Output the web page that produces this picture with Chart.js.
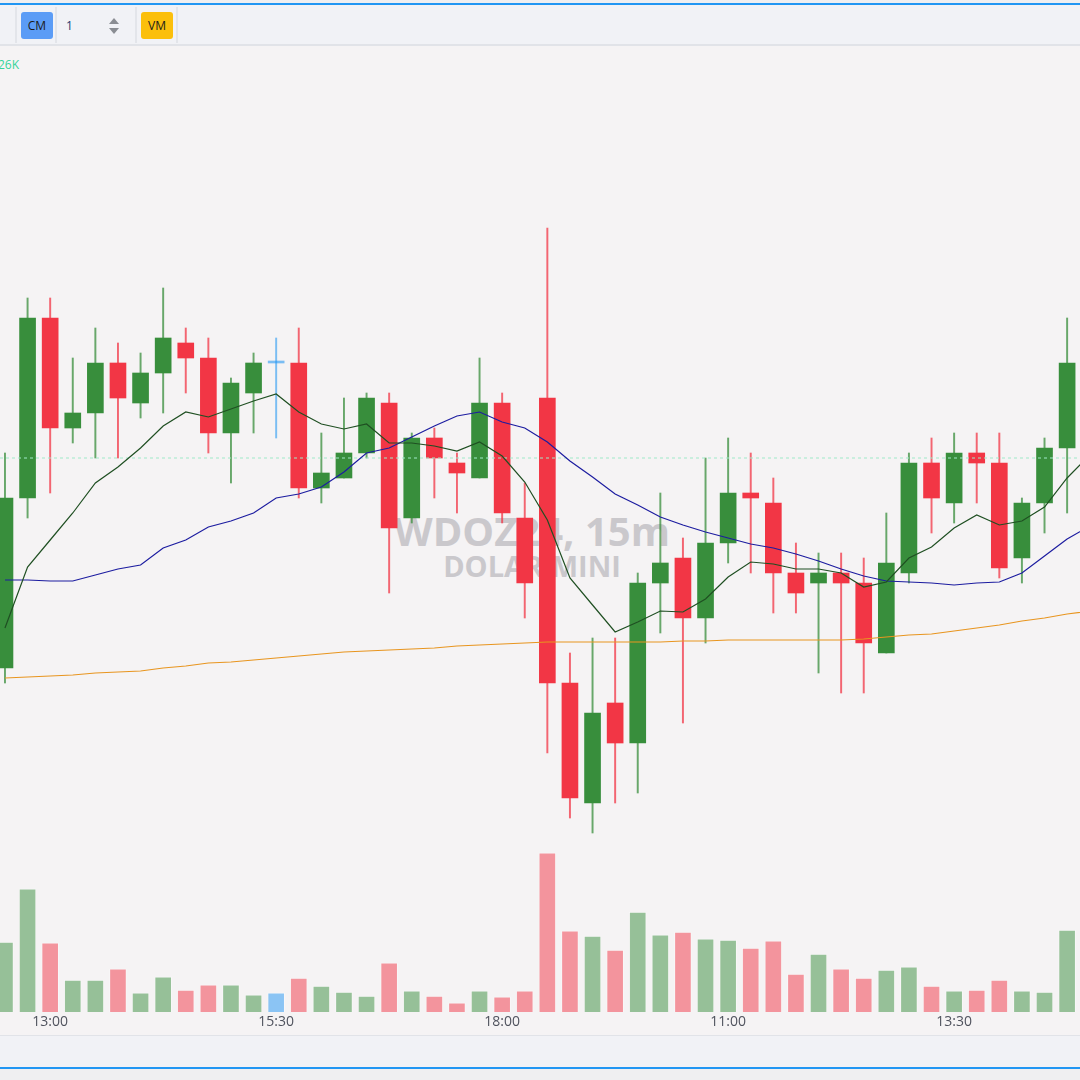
<!DOCTYPE html>
<html lang="pt-BR">
<head>
<meta charset="UTF-8">
<title>WDOZ24, 15m</title>
<script src="https://cdn.jsdelivr.net/npm/chart.js"></script>
<style>
    html, body { margin: 0; padding: 0; }
    body { width: 1080px; height: 1080px; overflow: hidden; position: relative; background: #efeff1; font-family: "Open Sans", sans-serif; }
    .topline { position: absolute; left: 0; top: 3px; width: 1080px; height: 2px; background: #2196f3; }
    .toolbar { position: absolute; left: 0; top: 5px; width: 1080px; height: 39px; background: #f1f2f6; border-bottom: 2px solid #e1e3e8; }
    .sep { position: absolute; top: 2px; width: 2px; height: 36px; background: #e3e5ea; }
    .btn { position: absolute; top: 7px; width: 32px; height: 27px; border-radius: 3px; font-size: 12px; line-height: 27px; text-align: center; color: #1b1b1b; }
    .num { position: absolute; left: 66px; top: 7px; line-height: 27px; font-size: 12px; color: #1f3a70; }
    .spin { position: absolute; left: 109px; width: 0; height: 0; border-left: 5px solid transparent; border-right: 5px solid transparent; }
    .pane { position: absolute; left: 0; top: 46px; width: 1080px; height: 989px; background: #f5f3f4; }
    .vol-label { position: absolute; right: 1061px; top: 56px; font-size: 12px; color: #35d49a; white-space: nowrap; }
    .wm { position: absolute; left: 0; width: 1064px; text-align: center; font-weight: 700; color: #cac8cc; white-space: nowrap; }
    .chartbox { position: absolute; left: 0; top: 46px; width: 1080px; height: 989px; }
    .footer { position: absolute; left: 0; top: 1035px; width: 1080px; height: 31px; background: #f1f2f6; border-top: 1px solid #e1e3e8; }
    .bottomline { position: absolute; left: 0; top: 1067px; width: 1080px; height: 2px; background: #2196f3; }
</style>
</head>
<body>
    <div class="topline"></div>
    <div class="toolbar">
        <div class="sep" style="left:15px"></div>
        <div class="btn" style="left:21px; background:#5b9cf6">CM</div>
        <div class="sep" style="left:55px"></div>
        <div class="num">1</div>
        <div class="spin" style="top:13px; border-bottom:6px solid #8a8d93"></div>
        <div class="spin" style="top:23px; border-top:6px solid #8a8d93"></div>
        <div class="sep" style="left:135px"></div>
        <div class="btn" style="left:141px; background:#fbbf0b">VM</div>
        <div class="sep" style="left:176px"></div>
    </div>
    <div class="pane"></div>
    <div class="vol-label">Vol 1.26K</div>
    <div class="wm" style="top:511px; font-size:40px; line-height:40px">WDOZ24, 15m</div>
    <div class="wm" style="top:551px; font-size:29px; line-height:29px">DOLAR MINI</div>
    <div class="chartbox"><canvas id="chart"></canvas></div>
    <div class="footer"></div>
    <div class="bottomline"></div>
    <script>
    // candles (15m), values
    const opens  = [5829.0, 5846.0, 5864.0, 5853.0, 5854.5, 5859.5, 5855.5, 5858.5, 5861.5, 5860.0, 5852.5, 5856.5, 5859.5, 5859.5, 5847.0, 5848.0, 5850.5, 5855.5, 5844.0, 5852.0, 5849.5, 5848.0, 5855.5, 5844.0, 5856.0, 5827.5, 5815.5, 5825.5, 5821.5, 5837.5, 5840.0, 5834.0, 5841.5, 5846.5, 5845.5, 5838.5, 5837.5, 5838.5, 5837.5, 5830.5, 5838.5, 5849.5, 5845.5, 5850.5, 5849.5, 5840.0, 5845.5, 5851.0];
    const highs  = [5850.5, 5866.0, 5866.0, 5860.0, 5863.0, 5861.5, 5860.5, 5867.0, 5863.0, 5862.0, 5858.0, 5860.5, 5862.0, 5863.0, 5852.5, 5856.0, 5856.5, 5856.5, 5852.5, 5853.0, 5850.5, 5860.0, 5856.5, 5847.5, 5873.0, 5830.5, 5832.0, 5832.0, 5838.5, 5846.5, 5842.0, 5850.0, 5852.0, 5850.5, 5848.0, 5841.5, 5840.5, 5840.5, 5840.0, 5844.5, 5850.5, 5852.0, 5852.5, 5852.5, 5852.5, 5846.0, 5852.0, 5864.0];
    const lows   = [5827.5, 5844.0, 5846.5, 5851.5, 5850.0, 5850.0, 5854.0, 5854.5, 5856.5, 5850.5, 5847.5, 5852.5, 5852.0, 5846.0, 5845.5, 5848.0, 5850.0, 5836.5, 5843.5, 5846.0, 5844.5, 5848.0, 5843.5, 5834.0, 5820.5, 5814.0, 5812.5, 5815.5, 5816.5, 5832.5, 5823.5, 5831.5, 5839.5, 5838.5, 5834.5, 5834.5, 5828.5, 5826.5, 5826.5, 5830.5, 5837.5, 5842.5, 5843.5, 5845.5, 5838.0, 5837.5, 5842.5, 5844.5];
    const closes = [5846.0, 5864.0, 5853.0, 5854.5, 5859.5, 5856.0, 5858.5, 5862.0, 5860.0, 5852.5, 5857.5, 5859.5, 5859.5, 5847.0, 5848.5, 5850.5, 5856.0, 5843.0, 5852.0, 5850.0, 5848.5, 5855.5, 5844.5, 5837.5, 5827.5, 5816.0, 5824.5, 5821.5, 5837.5, 5839.5, 5834.0, 5841.5, 5846.5, 5846.0, 5838.5, 5836.5, 5838.5, 5837.5, 5831.5, 5839.5, 5849.5, 5846.0, 5850.5, 5849.5, 5839.0, 5845.5, 5851.0, 5859.5];
    // volume in K contracts
    const volumes = [17.5, 30.8, 17.3, 8.0, 8.0, 10.8, 4.8, 8.8, 5.5, 6.8, 6.8, 4.3, 4.8, 8.5, 6.5, 5.0, 4.0, 12.3, 5.3, 4.0, 2.3, 5.3, 3.8, 5.3, 39.8, 20.3, 19.0, 15.5, 25.0, 19.3, 20.0, 18.3, 18.0, 16.0, 17.8, 9.5, 14.5, 10.8, 8.5, 10.5, 11.3, 6.5, 5.3, 5.5, 8.0, 5.3, 5.0, 20.5];

    // moving averages (one more point than the candles, it runs past the right edge)
    const maFast = [5833.0, 5839.1, 5841.8, 5844.5, 5847.5, 5849.1, 5851.0, 5853.2, 5854.6, 5854.1, 5854.9, 5855.7, 5856.4, 5854.6, 5853.4, 5852.9, 5853.4, 5851.5, 5851.5, 5851.2, 5850.7, 5851.6, 5850.2, 5847.6, 5843.8, 5838.0, 5835.3, 5832.6, 5833.6, 5834.7, 5834.6, 5835.9, 5838.1, 5839.6, 5839.4, 5838.9, 5838.9, 5838.5, 5837.1, 5837.6, 5840.0, 5841.1, 5843.0, 5844.3, 5843.3, 5843.7, 5845.1, 5848.0, 5850.3];
    const maMid  = [5837.8, 5837.8, 5837.7, 5837.7, 5838.3, 5838.9, 5839.3, 5841.0, 5841.8, 5843.1, 5843.7, 5844.5, 5846.0, 5846.4, 5847.1, 5848.6, 5850.5, 5851.0, 5852.1, 5853.2, 5854.2, 5854.6, 5853.6, 5853.0, 5851.6, 5849.7, 5848.1, 5846.4, 5845.3, 5844.1, 5843.3, 5842.6, 5842.0, 5841.4, 5841.0, 5840.4, 5839.7, 5838.9, 5838.2, 5837.7, 5837.6, 5837.5, 5837.3, 5837.5, 5837.6, 5838.5, 5840.2, 5841.9, 5843.2];
    const maSlow = [5828.0, 5828.1, 5828.2, 5828.3, 5828.5, 5828.6, 5828.7, 5829.0, 5829.2, 5829.5, 5829.6, 5829.8, 5830.0, 5830.2, 5830.4, 5830.6, 5830.7, 5830.8, 5830.9, 5831.0, 5831.2, 5831.3, 5831.4, 5831.5, 5831.6, 5831.6, 5831.6, 5831.6, 5831.6, 5831.6, 5831.7, 5831.7, 5831.8, 5831.8, 5831.8, 5831.8, 5831.8, 5831.8, 5831.9, 5832.1, 5832.3, 5832.4, 5832.7, 5833.0, 5833.3, 5833.7, 5834.0, 5834.4, 5834.7];

    const priceLine = 5850.0;
    const tickIndex = [2, 12, 22, 32, 42];
    const tickLabels = ['13:00', '15:30', '18:00', '11:00', '13:30'];

    // visible window
    const xMin = -0.22, xMax = 47.57;

    function candleColor(i, alpha) {
        if (closes[i] > opens[i]) return `rgba(56, 142, 60, ${alpha})`;
        if (closes[i] < opens[i]) return `rgba(242, 54, 69, ${alpha})`;
        return `rgba(33, 150, 243, ${Math.min(alpha, 0.58)})`;
    }

    const asPoints = arr => arr.map((v, i) => ({ x: i, y: v }));

    new Chart(document.getElementById('chart'), {
        type: 'bar',
        data: {
            datasets: [
                { type: 'line', label: 'MA 9', data: asPoints(maFast), borderColor: '#1f4f22', borderWidth: 1.2, pointRadius: 0, tension: 0, order: 0 },
                { type: 'line', label: 'MA 21', data: asPoints(maMid), borderColor: '#1c1ca0', borderWidth: 1.2, pointRadius: 0, tension: 0, order: 0 },
                { type: 'line', label: 'MA 200', data: asPoints(maSlow), borderColor: '#e8951f', borderWidth: 1.2, pointRadius: 0, tension: 0, order: 0 },
                { type: 'line', label: 'Preço', data: [{ x: xMin, y: priceLine }, { x: xMax, y: priceLine }], borderColor: '#9fe9c8', borderWidth: 1, borderDash: [3, 3], pointRadius: 0, order: 0 },
                {
                    label: 'Corpo', data: opens.map((o, i) => ({ x: i, y: [o, closes[i]] })),
                    backgroundColor: c => candleColor(c.dataIndex, 1),
                    barThickness: 16, minBarLength: 2, grouped: false, order: 1
                },
                {
                    label: 'Pavio', data: lows.map((l, i) => ({ x: i, y: [l, highs[i]] })),
                    backgroundColor: c => candleColor(c.dataIndex, 0.75),
                    barThickness: 1.3, grouped: false, order: 2
                },
                {
                    label: 'Volume', data: asPoints(volumes), yAxisID: 'vol',
                    backgroundColor: c => candleColor(c.dataIndex, 0.5),
                    borderColor: 'rgba(255, 255, 255, 0.35)', borderWidth: 1,
                    barThickness: 17, grouped: false, order: 3
                }
            ]
        },
        options: {
            responsive: true,
            maintainAspectRatio: false,
            animation: false,
            layout: { padding: 0 },
            plugins: { legend: { display: false }, tooltip: { enabled: false } },
            scales: {
                x: {
                    type: 'linear', min: xMin, max: xMax, offset: false, bounds: 'data',
                    grid: { display: false, drawTicks: false },
                    border: { display: false },
                    afterBuildTicks: s => { s.ticks = tickIndex.map(v => ({ value: v })); },
                    afterFit: s => { s.height = 23; },
                    ticks: {
                        autoSkip: false, maxRotation: 0, padding: 2, color: '#50535e',
                        font: { size: 14, family: '"Open Sans"' },
                        callback: (v, i) => tickLabels[i]
                    }
                },
                y: { display: false, min: 5794.6, max: 5891.2 },
                vol: { display: false, min: 0, max: 241.5 }
            }
        }
    });
    </script>
</body>
</html>
